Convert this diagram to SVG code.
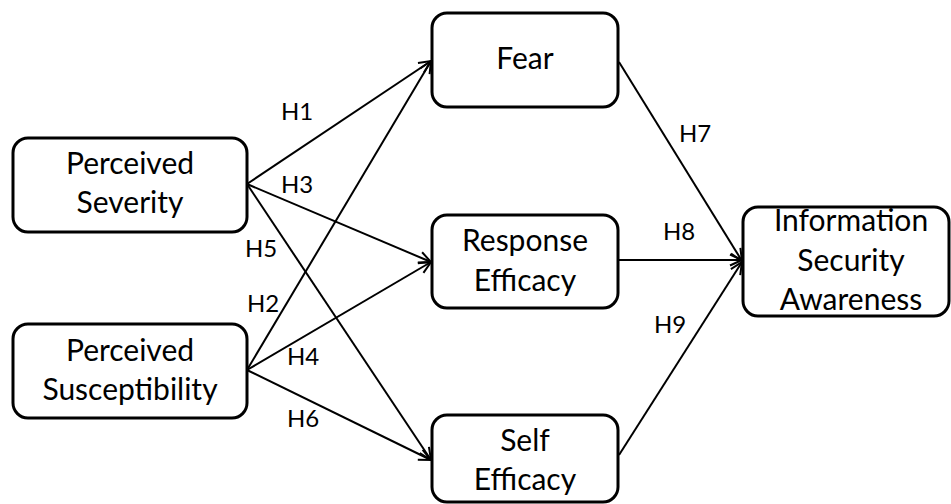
<svg xmlns="http://www.w3.org/2000/svg" width="951" height="504" viewBox="0 0 951 504">
<style>
.box{fill:#fff;stroke:#000;stroke-width:3}
.t{font-family:Lato,"Open Sans","Liberation Sans",sans-serif;font-size:30px;fill:#000;text-anchor:middle}
.h{font-family:Lato,"Open Sans","Liberation Sans",sans-serif;font-size:24px;fill:#000}
.c{stroke:#000;stroke-width:2;fill:none;marker-end:url(#arr)}
</style>
<defs>
<marker id="arr" viewBox="0 0 14 14" refX="13" refY="7" markerWidth="14" markerHeight="14" markerUnits="userSpaceOnUse" orient="auto">
<polyline points="1,1.5 13,7 1,12.5" fill="none" stroke="#000" stroke-width="2"/>
</marker>
</defs>
<g id="connectors">
<line class="c" x1="247" y1="184" x2="431" y2="61"/>
<line class="c" x1="247" y1="184" x2="431" y2="262"/>
<line class="c" x1="247" y1="184" x2="431" y2="460"/>
<line class="c" x1="247" y1="370" x2="431" y2="61"/>
<line class="c" x1="247" y1="370" x2="431" y2="262"/>
<line class="c" x1="247" y1="370" x2="431" y2="460"/>
<line class="c" x1="619" y1="62" x2="742" y2="261"/>
<line class="c" x1="619" y1="260" x2="742" y2="260"/>
<line class="c" x1="619" y1="455" x2="742" y2="262"/>
<text class="h" x="281" y="120">H1</text>
<text class="h" x="281" y="193">H3</text>
<text class="h" x="245" y="257">H5</text>
<text class="h" x="247" y="312">H2</text>
<text class="h" x="287" y="365">H4</text>
<text class="h" x="287" y="427">H6</text>
<text class="h" x="679" y="142">H7</text>
<text class="h" x="663" y="240">H8</text>
<text class="h" x="654" y="333">H9</text>
</g>
<g id="severity">
<rect class="box" x="13" y="138" width="234" height="94" rx="15"/>
<text class="t" x="130" y="174">Perceived</text>
<text class="t" x="130" y="213">Severity</text>
</g>
<g id="susceptibility">
<rect class="box" x="13" y="324" width="234" height="94" rx="15"/>
<text class="t" x="130" y="361">Perceived</text>
<text class="t" x="130" y="400">Susceptibility</text>
</g>
<g id="fear">
<rect class="box" x="432" y="13" width="186" height="94" rx="15"/>
<text class="t" x="525" y="69">Fear</text>
</g>
<g id="response">
<rect class="box" x="432" y="215" width="186" height="93" rx="15"/>
<text class="t" x="525" y="251">Response</text>
<text class="t" x="525" y="291">Efficacy</text>
</g>
<g id="self">
<rect class="box" x="432" y="415" width="186" height="87" rx="15"/>
<text class="t" x="525" y="451">Self</text>
<text class="t" x="525" y="490">Efficacy</text>
</g>
<g id="isa">
<rect class="box" x="743" y="207" width="206" height="109" rx="15"/>
<text class="t" x="851" y="231">Information</text>
<text class="t" x="851" y="271">Security</text>
<text class="t" x="851" y="310">Awareness</text>
</g>
</svg>
